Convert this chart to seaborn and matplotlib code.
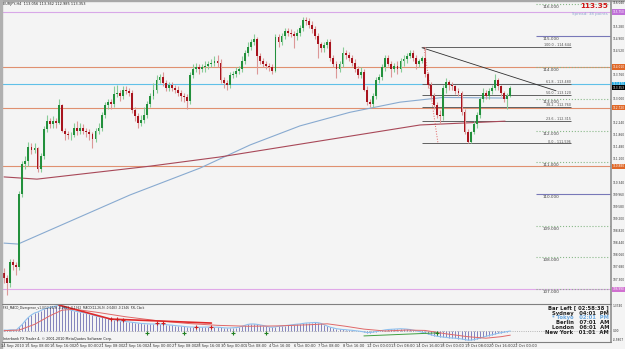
import matplotlib
matplotlib.use("Agg")
import matplotlib.pyplot as plt
import numpy as np
import pandas as pd
import seaborn as sns

sns.set_style("white")
plt.rcParams['font.family'] = ['DejaVu Sans']

# ---------------- data ----------------
opens = [107.50, 107.35, 107.20, 107.85, 107.75, 107.70, 110.00, 110.95, 111.05, 111.50,
         111.40, 111.45, 110.80, 111.20, 112.05, 112.30, 112.20, 112.30, 112.25, 112.80,
         112.00, 111.90, 111.85, 111.85, 112.10, 112.00, 112.10, 112.00, 111.95, 111.90,
         111.75, 112.00, 112.10, 112.50, 112.80, 112.90, 112.85, 113.15, 113.20, 113.10,
         113.30, 113.25, 113.20, 112.65, 112.45, 112.25, 112.35, 112.50, 112.85, 113.10,
         113.30, 113.60, 113.70, 113.50, 113.35, 113.45, 113.35, 113.30, 113.20, 113.10,
         113.05, 112.95, 113.75, 113.95, 114.00, 113.95, 114.00, 114.05, 114.10, 114.15,
         114.20, 114.15, 113.60, 113.50, 113.45, 113.75, 113.80, 113.90, 113.95, 114.20,
         114.45, 114.65, 114.80, 114.90, 114.35, 114.20, 114.10, 114.05, 114.00, 113.90,
         114.95, 114.80, 115.00, 115.15, 115.10, 115.05, 115.00, 115.10, 115.25, 115.50,
         115.45, 115.35, 115.20, 115.00, 114.75, 114.60, 114.70, 114.80, 114.30, 114.10,
         113.95, 114.10, 114.45, 114.40, 114.30, 114.15, 113.95, 113.75, 113.85, 113.30,
         112.90, 112.85, 113.10, 113.60, 113.70, 114.00, 114.30, 114.10, 113.95, 114.05,
         113.95, 114.20, 114.25, 114.35, 114.45, 114.30, 114.10, 114.20, 114.30, 113.80,
         113.45, 113.10, 112.80, 112.50, 112.45, 113.35, 113.55, 113.45, 113.40, 113.25,
         113.20, 112.60, 111.95, 111.65, 111.95, 112.20, 112.50, 113.00, 113.20, 113.10,
         113.25, 113.35, 113.60, 113.40, 113.20, 113.00, 113.10]
closes = [107.35, 107.20, 107.85, 107.75, 107.70, 110.00, 110.95, 111.05, 111.50, 111.40,
          111.45, 110.80, 111.20, 112.05, 112.30, 112.20, 112.30, 112.25, 112.80, 112.00,
          111.90, 111.85, 111.85, 112.10, 112.00, 112.10, 112.00, 111.95, 111.90, 111.75,
          112.00, 112.10, 112.50, 112.80, 112.90, 112.85, 113.15, 113.20, 113.10, 113.30,
          113.25, 113.20, 112.65, 112.45, 112.25, 112.35, 112.50, 112.85, 113.10, 113.30,
          113.60, 113.70, 113.50, 113.35, 113.45, 113.35, 113.30, 113.20, 113.10, 113.05,
          112.95, 113.75, 113.95, 114.00, 113.95, 114.00, 114.05, 114.10, 114.15, 114.20,
          114.15, 113.60, 113.50, 113.45, 113.75, 113.80, 113.90, 113.95, 114.20, 114.45,
          114.65, 114.80, 114.90, 114.35, 114.20, 114.10, 114.05, 114.00, 113.90, 114.95,
          114.80, 115.00, 115.15, 115.10, 115.05, 115.00, 115.10, 115.25, 115.50, 115.45,
          115.35, 115.20, 115.00, 114.75, 114.60, 114.70, 114.80, 114.30, 114.10, 113.95,
          114.10, 114.45, 114.40, 114.30, 114.15, 113.95, 113.75, 113.85, 113.30, 112.90,
          112.85, 113.10, 113.60, 113.70, 114.00, 114.30, 114.10, 113.95, 114.05, 113.95,
          114.20, 114.25, 114.35, 114.45, 114.30, 114.10, 114.20, 114.30, 113.80, 113.45,
          113.10, 112.80, 112.50, 112.45, 113.35, 113.55, 113.45, 113.40, 113.25, 113.20,
          112.60, 111.95, 111.65, 111.95, 112.20, 112.50, 113.00, 113.20, 113.10, 113.25,
          113.35, 113.60, 113.40, 113.20, 113.00, 113.10, 113.35]
highs = [107.65, 107.45, 107.95, 107.95, 107.85, 110.10, 111.05, 111.20, 111.65, 111.60,
         111.60, 111.50, 111.30, 112.15, 112.50, 112.40, 112.45, 112.40, 113.00, 112.85,
         112.10, 112.00, 111.95, 112.25, 112.30, 112.25, 112.20, 112.10, 112.05, 111.95,
         112.10, 112.25, 112.60, 112.90, 113.00, 113.00, 113.40, 113.45, 113.30, 113.40,
         113.40, 113.35, 113.30, 112.75, 112.55, 112.50, 112.75, 112.95, 113.20, 113.50,
         113.75, 113.80, 113.85, 113.60, 113.55, 113.55, 113.45, 113.40, 113.30, 113.20,
         113.15, 113.85, 114.10, 114.15, 114.10, 114.10, 114.20, 114.20, 114.25, 114.35,
         114.40, 114.25, 113.70, 113.60, 113.85, 113.90, 114.00, 114.05, 114.35, 114.55,
         114.80, 114.90, 115.05, 114.95, 114.45, 114.30, 114.20, 114.15, 114.10, 115.05,
         115.05, 115.10, 115.25, 115.25, 115.20, 115.15, 115.20, 115.35, 115.60, 115.60,
         115.55, 115.45, 115.30, 115.10, 114.80, 114.80, 114.90, 114.90, 114.40, 114.20,
         114.20, 114.65, 114.55, 114.50, 114.40, 114.25, 114.05, 114.00, 113.95, 113.40,
         113.00, 113.20, 113.70, 113.80, 114.10, 114.40, 114.40, 114.20, 114.15, 114.20,
         114.30, 114.40, 114.45, 114.55, 114.55, 114.40, 114.25, 114.35, 114.64, 113.85,
         113.55, 113.20, 112.90, 112.65, 113.45, 113.65, 113.60, 113.55, 113.45, 113.35,
         113.25, 112.70, 112.05, 112.00, 112.30, 112.60, 113.05, 113.35, 113.30, 113.35,
         113.45, 113.80, 113.65, 113.45, 113.25, 113.20, 113.40]
lows = [107.20, 106.80, 107.05, 107.60, 107.45, 107.60, 109.90, 110.80, 110.90, 111.25,
        111.30, 110.70, 110.70, 111.10, 111.95, 112.10, 112.10, 112.10, 112.20, 111.95,
        111.70, 111.75, 111.70, 111.80, 111.85, 111.90, 111.90, 111.80, 111.70, 111.45,
        111.65, 111.90, 112.00, 112.40, 112.70, 112.70, 112.75, 113.05, 112.95, 113.00,
        113.15, 113.10, 112.55, 112.30, 112.10, 112.15, 112.25, 112.40, 112.75, 113.00,
        113.20, 113.50, 113.40, 113.25, 113.25, 113.25, 113.20, 113.10, 112.95, 112.90,
        112.70, 112.85, 113.65, 113.85, 113.80, 113.85, 113.85, 113.95, 114.00, 114.05,
        114.00, 113.50, 113.35, 113.30, 113.35, 113.65, 113.70, 113.80, 113.85, 114.10,
        114.35, 114.55, 114.70, 113.80, 114.10, 114.00, 113.95, 113.90, 113.80, 113.85,
        114.65, 114.70, 114.90, 115.00, 114.95, 114.60, 114.85, 115.00, 115.15, 115.35,
        115.25, 115.10, 114.90, 114.30, 114.50, 114.50, 114.60, 114.20, 114.00, 113.65,
        113.85, 114.00, 114.25, 114.20, 114.05, 113.85, 113.65, 113.65, 113.25, 112.80,
        112.75, 112.75, 113.00, 113.50, 113.60, 113.90, 114.05, 113.70, 113.85, 113.80,
        113.85, 114.05, 114.15, 114.30, 114.20, 113.95, 114.00, 114.15, 113.70, 113.35,
        113.00, 112.70, 112.40, 112.20, 112.35, 113.20, 113.30, 113.30, 113.15, 113.10,
        112.50, 111.90, 111.60, 111.60, 111.90, 112.10, 112.40, 112.90, 113.00, 113.00,
        113.15, 113.30, 113.30, 113.10, 112.90, 112.70, 113.05]

# moving averages traced as knots (bar index, price)
ma_slow_idx = [0, 4.6, 41.3, 64.3, 80.7, 97.0, 113.4, 129.8, 144.0, 164.6]
ma_slow_val = [108.45, 108.42, 109.97, 110.82, 111.55, 112.15, 112.58, 112.90, 113.05, 113.03]
ma_long_idx = [0, 10.8, 47.9, 70.8, 136.4, 164.3]
ma_long_val = [110.54, 110.47, 110.88, 111.17, 112.18, 112.30]

# horizontal levels
hlines_full = [115.75, 114.01, 113.47, 112.72, 110.88, 106.99]
hlines_full_col = ['#d8a8e8', '#e09070', '#60c0e8', '#e09070', '#e09070', '#e0a8e8']
round_levels = [116, 115, 114, 113, 112, 111, 110, 109, 108, 107]
round_styles = [':', '-', ':', ':', ':', ':', '-', ':', ':', ':']
fib_pct = ['100.0', '61.8', '50.0', '38.2', '23.6', '0.0']
fib_val = [114.644, 113.480, 113.120, 112.760, 112.315, 111.596]

# MACD histogram per bar
macd_hist = [0.05, 0.04, 0.06, 0.06, 0.05, 0.20, 0.35, 0.55, 0.72, 0.85,
             0.95, 1.00, 1.08, 1.15, 1.20, 1.25, 1.28, 1.32, 1.35, 1.30,
             1.22, 1.15, 1.10, 1.06, 1.03, 1.00, 0.97, 0.94, 0.90, 0.85,
             0.80, 0.76, 0.73, 0.70, 0.67, 0.64, 0.60, 0.57, 0.54, 0.52,
             0.50, 0.48, 0.46, 0.44, 0.42, 0.40, 0.39, 0.38, 0.37, 0.37,
             0.37, 0.37, 0.36, 0.34, 0.32, 0.31, 0.29, 0.27, 0.26, 0.24,
             0.22, 0.21, 0.21, 0.20, 0.20, 0.20, 0.21, 0.21, 0.20, 0.20,
             0.20, 0.19, 0.17, 0.16, 0.16, 0.17, 0.18, 0.20, 0.25, 0.30,
             0.35, 0.37, 0.37, 0.35, 0.32, 0.29, 0.25, 0.21, 0.20, 0.22,
             0.25, 0.26, 0.28, 0.30, 0.32, 0.34, 0.36, 0.37, 0.40, 0.42,
             0.43, 0.44, 0.45, 0.44, 0.40, 0.33, 0.26, 0.20, 0.16, 0.12,
             0.10, 0.08, 0.07, 0.05, 0.04, 0.02, 0.00, -0.02, -0.05, -0.08,
             -0.08, -0.06, -0.03, 0.00, 0.03, 0.06, 0.08, 0.09, 0.10, 0.11,
             0.12, 0.11, 0.10, 0.08, 0.05, 0.02, -0.02, -0.06, -0.10, -0.15,
             -0.20, -0.24, -0.28, -0.30, -0.32, -0.34, -0.36, -0.37, -0.38, -0.40,
             -0.42, -0.45, -0.48, -0.48, -0.46, -0.42, -0.38, -0.33, -0.28, -0.24,
             -0.20, -0.16, -0.12, -0.09, -0.06, -0.03, 0.00]
signal_idx = [0, 5, 10, 15, 19, 23, 30, 40, 50, 60, 70, 80, 90, 100, 106, 112, 118, 125, 132, 138, 145, 152, 158, 163, 166]
signal_val = [0.02, 0.05, 0.35, 0.80, 1.10, 1.15, 1.00, 0.75, 0.55, 0.40, 0.30, 0.25, 0.27, 0.33, 0.38, 0.25, 0.10, 0.00, 0.05, 0.03, -0.15, -0.30, -0.38, -0.30, -0.22]

xtick_labels = ["14 Sep 2010", "15 Sep 08:00", "16 Sep 16:00", "20 Sep 00:00", "21 Sep 08:00",
                "22 Sep 16:00", "24 Sep 00:00", "27 Sep 08:00", "28 Sep 16:00", "30 Sep 00:00",
                "1 Oct 08:00", "4 Oct 16:00", "6 Oct 00:00", "7 Oct 08:00", "8 Oct 16:00",
                "12 Oct 00:00", "13 Oct 08:00", "14 Oct 16:00", "18 Oct 00:00", "19 Oct 08:00",
                "20 Oct 16:00", "22 Oct 00:00"]
price_ticks = [116.040, 115.660, 115.280, 114.900, 114.520, 114.140, 113.760, 113.380, 113.000,
               112.620, 112.240, 111.860, 111.480, 111.100, 110.720, 110.340, 109.960, 109.580,
               109.200, 108.820, 108.440, 108.060, 107.680, 107.300, 106.920]
price_boxes = [115.75, 114.01, 113.47, 113.353, 112.72, 110.88, 106.99]
price_box_col = ['#c070d8', '#e06828', '#20a8e0', '#000000', '#e06828', '#e06828', '#d070d0']

# ---------------- layout ----------------
W, H = 625, 349
fig = plt.figure(figsize=(W / 100, H / 100), dpi=100, facecolor='#f4f4f4')

def px_i(px):
    return (px - 4) / 3.05

def ypx(v):
    return 4 + (116 - v) * 31.67

def ax_rect(x0, y0, x1, y1):
    return [x0 / W, 1 - y1 / H, (x1 - x0) / W, (y1 - y0) / H]

ax = fig.add_axes(ax_rect(2, 1, 611, 303))
ax2 = fig.add_axes(ax_rect(2, 304, 611, 342))
for a in (ax, ax2):
    a.set_facecolor('#f4f4f4')
    a.set_xlim(px_i(2), px_i(611))
    a.set_xticks([])
    a.set_yticks([])
    for s in a.spines.values():
        s.set_visible(False)

ax.set_ylim(116 - (303 - 4) / 31.67, 116 + 3 / 31.67)
ax2.set_ylim(-11 * 0.05285, 27 * 0.05285)

idx = np.arange(len(closes))
df = pd.DataFrame({'i': idx, 'o': opens, 'h': highs, 'l': lows, 'c': closes})
up = df['c'] >= df['o']

# horizontal full-width lines
for v, c in zip(hlines_full, hlines_full_col):
    ax.axhline(v, color=c, lw=0.8, zorder=1)

# round number short levels
for v, ls in zip(round_levels, round_styles):
    col = '#7878b8' if ls == '-' else '#88b888'
    ax.hlines(v, px_i(536), px_i(611), colors=col, linestyles=ls, lw=0.8, zorder=1)
    ax.text(px_i(543), v - 0.035, f"{v:.3f}", fontsize=3.0, color='#404040', va='top', ha='left')

# fibonacci
for p, v in zip(fib_pct, fib_val):
    ax.hlines(v, px_i(422), px_i(571), colors='#606060', lw=0.7, zorder=2)
    ax.text(px_i(571), v - 0.005, f"{p} - {v:.3f}", fontsize=2.4, color='#505050', va='bottom', ha='right')
ax.plot([px_i(424), px_i(438)], [fib_val[0], fib_val[-1]], color='#e06060', lw=0.7, ls=':', zorder=2)
ax.plot([px_i(422), px_i(556)], [114.62, 113.26], color='#303030', lw=0.6, zorder=2)

# moving averages
sns.lineplot(x=ma_slow_idx, y=ma_slow_val, ax=ax, color='#88aad0', lw=0.8, zorder=2)
sns.lineplot(x=ma_long_idx, y=ma_long_val, ax=ax, color='#a84858', lw=0.8, zorder=2)

# candles
ax.vlines(df['i'][up], df['l'][up], df['h'][up], colors='#88cc98', lw=0.8, zorder=3)
ax.vlines(df['i'][~up], df['l'][~up], df['h'][~up], colors='#dc9898', lw=0.8, zorder=3)
body = (df['c'] - df['o']).abs().clip(lower=0.02)
base = df[['o', 'c']].min(axis=1)
ax.bar(df['i'][up], body[up], bottom=base[up], width=0.62, color='#22903c', lw=0, zorder=4)
ax.bar(df['i'][~up], body[~up], bottom=base[~up], width=0.62, color='#a8141e', lw=0, zorder=4)

ax.set_xlabel('')
ax.set_ylabel('')

# texts on main chart
fig.text(3 / W, 1 - 4.5 / H, "EURJPY,H4  113.056 113.362 112.985 113.353",
         fontsize=2.5, color='#202020', va='center', ha='left')
fig.text(608 / W, 1 - 6.5 / H, "113.35", fontsize=5.2, fontweight='bold', color='#d01818', ha='right', va='center')
fig.text(608 / W, 1 - 14 / H, "Spread: 38 points", fontsize=2.9, color='#90a8d0', ha='right', va='center')

# MACD panel
ax2.axhline(0, color='#a0a0a0', lw=0.6, ls=':', zorder=1)
ax2.vlines(idx, 0, macd_hist, colors='#8282bc', lw=0.7, zorder=2)
sns.lineplot(x=idx, y=macd_hist, ax=ax2, color='#8ec0ee', lw=0.8, zorder=3)
sns.lineplot(x=signal_idx, y=signal_val, ax=ax2, color='#e06868', lw=0.7, zorder=3)
ax2.plot([18, 35, 68], [1.37, 0.63, 0.42], color='#e02828', lw=1.2, zorder=4)
ax2.plot([118, 142], [-0.26, -0.10], color='#40a040', lw=0.7, zorder=4)
ax2.plot([35, 37, 39, 50, 52, 63, 68], [0.66, 0.62, 0.58, 0.40, 0.40, 0.23, 0.22], ls='none',
         marker='+', ms=2.5, mew=0.8, color='#d02020', zorder=5)
ax2.plot([47, 59, 75, 86, 142], [-0.08, -0.08, -0.08, -0.1, -0.1], ls='none',
         marker='+', ms=2.5, mew=0.8, color='#208020', zorder=5)
ax2.set_xlabel('')
ax2.set_ylabel('')
fig.text(3 / W, 1 - 307.5 / H,
         "FX5_MACD_Divergence_v1.0(12,26,9) -0.0653 -0.1362  MACD(12,26,9) -0.0483 -0.1346  FXL Clock",
         fontsize=2.1, color='#202020', va='center', ha='left')
fig.text(3 / W, 1 - 339 / H, "Interbank FX Trader 4, \u00a9 2001-2010 MetaQuotes Software Corp.",
         fontsize=2.4, color='#202020', va='center', ha='left')

clock = [("Bar Left [ 02:58:38 ]", '#202020', 308), ("Sydney   04:01  PM", '#202020', 313),
         ("* Tokyo   02:01  PM", '#6aa8e0', 318), ("Berlin   07:01  AM", '#202020', 323),
         ("London   06:01  AM", '#202020', 327.5), ("New York   01:01  AM", '#202020', 332)]
for t, c, y in clock:
    fig.text(609 / W, 1 - y / H, t, fontsize=3.8, fontweight='bold', color=c, ha='right', va='center')

# right axis
fig.add_artist(plt.Line2D([611 / W, 611 / W], [1 - 1 / H, 1 - 342 / H], color='#909090', lw=1.2))
fig.add_artist(plt.Line2D([2 / W, 611 / W], [1 - 303.5 / H, 1 - 303.5 / H], color='#808080', lw=0.8))
fig.add_artist(plt.Line2D([2 / W, 611 / W], [1 - 342 / H, 1 - 342 / H], color='#808080', lw=0.8))
box_px = [ypx(v) for v in price_boxes]
for v in price_ticks:
    y = ypx(v)
    if y > 302 or min(abs(y - b) for b in box_px) < 6:
        continue
    fig.text(612.5 / W, 1 - y / H, f"{v:.3f}", fontsize=2.1, color='#303030', ha='left', va='center')
for v, c, y in zip(price_boxes, price_box_col, box_px):
    fig.text(612.5 / W, 1 - y / H, f"{v:.3f}", fontsize=2.1, color='white', ha='left', va='center',
             bbox=dict(boxstyle='square,pad=0.2', fc=c, ec='none'))
fig.text(612.5 / W, 1 - 306 / H, "1.3740", fontsize=2.1, color='#303030', ha='left', va='center')
fig.text(612.5 / W, 1 - 330.5 / H, "0.00", fontsize=2.1, color='#303030', ha='left', va='center')
fig.text(612.5 / W, 1 - 340 / H, "-0.5807", fontsize=2.1, color='#303030', ha='left', va='center')

# x labels
for k, lab in enumerate(xtick_labels):
    xpx = 4 + 3.05 * 8 * k
    fig.text((xpx - 3) / W, 1 - 346 / H, lab, fontsize=2.6, color='#303030', ha='left', va='center')
    fig.add_artist(plt.Line2D([xpx / W, xpx / W], [1 - 342 / H, 1 - 344 / H], color='#808080', lw=0.5))

# borders
fig.add_artist(plt.Rectangle((0, 1 - 1.2 / H), 1, 1.2 / H, color='#a8a8a8', transform=fig.transFigure))
fig.add_artist(plt.Rectangle((0, 0), 2 / W, 1, color='#b0b0b0', transform=fig.transFigure))

fig.savefig("out.png", dpi=100, facecolor=fig.get_facecolor())
